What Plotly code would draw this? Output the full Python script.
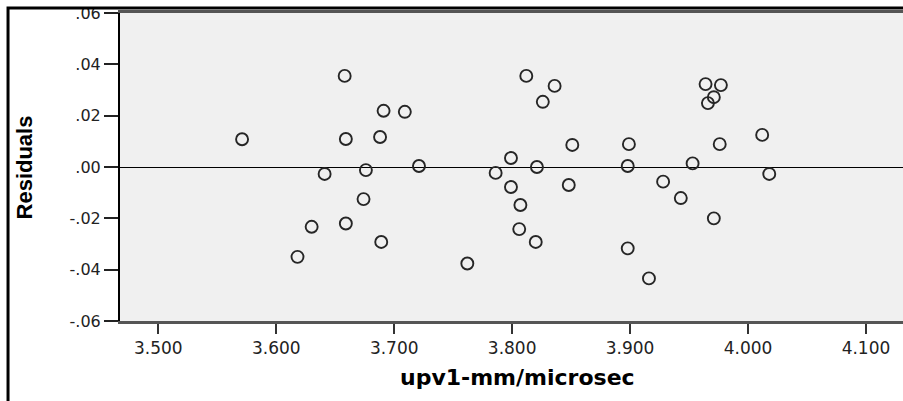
import plotly.graph_objects as go

# Data
upv1 = [3.571, 3.618, 3.658, 3.812, 3.836, 3.826, 3.691, 3.709, 3.659, 3.688,
        3.851, 3.799, 3.641, 3.676, 3.721, 3.786, 3.821, 3.799, 3.848, 3.674,
        3.630, 3.659, 3.689, 3.807, 3.806, 3.820, 3.762, 3.964, 3.977, 3.971,
        3.966, 3.899, 3.976, 4.012, 3.898, 3.953, 4.018, 3.928, 3.943, 3.971,
        3.898, 3.916]
residuals = [0.0108, -0.0350, 0.0355, 0.0355, 0.0316, 0.0254, 0.0219, 0.0215, 0.0109, 0.0117,
             0.0086, 0.0035, -0.0027, -0.0012, 0.0004, -0.0023, 0.0000, -0.0078, -0.0070, -0.0125,
             -0.0233, -0.0220, -0.0292, -0.0148, -0.0242, -0.0292, -0.0376, 0.0323, 0.0319, 0.0272,
             0.0249, 0.0089, 0.0089, 0.0125, 0.0004, 0.0014, -0.0027, -0.0057, -0.0121, -0.0200,
             -0.0317, -0.0434]

x_ticks = [3.5, 3.6, 3.7, 3.8, 3.9, 4.0, 4.1]
x_tick_labels = ["3.500", "3.600", "3.700", "3.800", "3.900", "4.000", "4.100"]
y_ticks = [-0.06, -0.04, -0.02, 0.0, 0.02, 0.04, 0.06]
y_tick_labels = ["-.06", "-.04", "-.02", ".00", ".02", ".04", ".06"]

x_title = "upv1-mm/microsec"
y_title = "Residuals"

fig = go.Figure()
fig.add_trace(go.Scatter(
    x=upv1, y=residuals, mode="markers",
    marker=dict(symbol="circle-open", size=12, color="#262626", line=dict(width=1.9, color="#262626")),
    showlegend=False, hoverinfo="x+y",
))

fig.update_layout(
    width=903, height=401,
    margin=dict(l=120, r=0, t=13, b=80),
    paper_bgcolor="white",
    plot_bgcolor="#f0f0f0",
    xaxis=dict(
        range=[3.4675, 4.1314], tickvals=x_ticks, ticktext=x_tick_labels,
        showgrid=False, zeroline=False,
        showline=True, linecolor="#555555", linewidth=2.5, mirror=True,
        ticks="outside", ticklen=10, tickwidth=2, tickcolor="#333333",
        tickfont=dict(family="DejaVu Sans", size=17, color="#222222"),
    ),
    yaxis=dict(
        range=[-0.06, 0.06], tickvals=y_ticks, ticktext=y_tick_labels,
        showgrid=False, zeroline=True, zerolinecolor="black", zerolinewidth=1,
        showline=True, linecolor="black", linewidth=2,
        ticks="outside", ticklen=14, tickwidth=2, tickcolor="#222222",
        tickfont=dict(family="DejaVu Sans", size=16, color="#222222"),
    ),
    shapes=[dict(type="rect", xref="paper", yref="paper",
                 x0=-0.1430, x1=1.3, y0=-0.6, y1=1.0162,
                 line=dict(color="black", width=3), fillcolor="rgba(0,0,0,0)")],
    annotations=[
        dict(text=y_title, xref="paper", yref="paper", x=-0.122, y=0.5,
             xanchor="center", yanchor="middle", textangle=-90, showarrow=False,
             font=dict(family="Liberation Sans", size=22, color="black", weight="bold")),
        dict(text=x_title, xref="paper", yref="paper", x=0.5077, y=-0.185,
             xanchor="center", yanchor="middle", showarrow=False,
             font=dict(family="DejaVu Sans", size=22, color="black", weight="bold")),
    ],
)

fig.write_html("out.html")
